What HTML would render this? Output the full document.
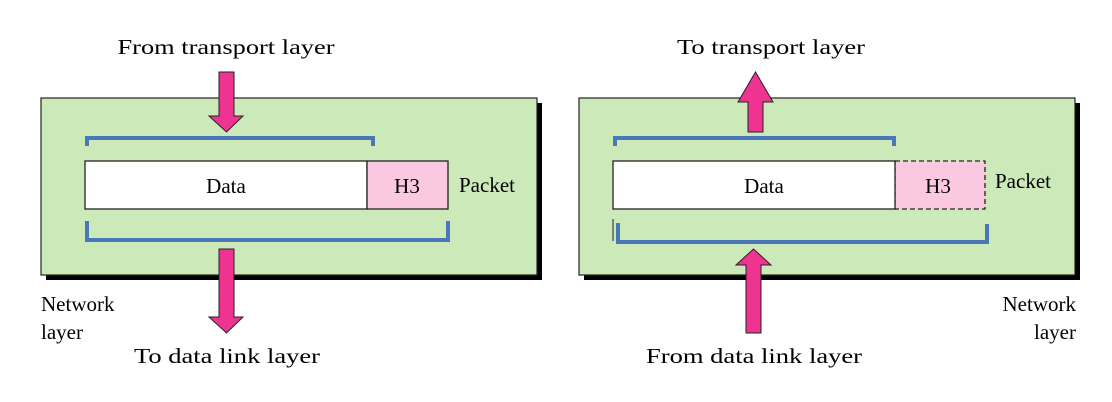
<!DOCTYPE html>
<html><head><meta charset="utf-8"><style>
html,body{margin:0;padding:0;background:#fff;}
svg{display:block;font-family:"Liberation Serif",serif;}
</style></head><body>
<svg width="1112" height="402" viewBox="0 0 1112 402" xmlns="http://www.w3.org/2000/svg">
<!-- LEFT -->
<rect x="46" y="103" width="496" height="177" fill="#000"/>
<rect x="41" y="98" width="496" height="177" fill="#cce9b9" stroke="#222" stroke-width="1.2"/>
<rect x="85" y="161" width="282" height="48" fill="#fff" stroke="#222" stroke-width="1.3"/>
<rect x="367" y="161" width="81" height="48" fill="#fbc8e2" stroke="#222" stroke-width="1.3"/>
<text x="226" y="193" font-size="21" text-anchor="middle">Data</text>
<text x="407" y="193" font-size="21" text-anchor="middle">H3</text>
<text x="459" y="192" font-size="21">Packet</text>
<path d="M87 146 V138 H373 V146" fill="none" stroke="#4a77b8" stroke-width="4"/>
<path d="M87 221 V240 H448 V221" fill="none" stroke="#4a77b8" stroke-width="4"/>
<polygon points="219,72 234,72 234,116 243,116 226.5,132 209,116 219,116" fill="#ee3391" stroke="#222" stroke-width="1"/>
<polygon points="219,249 234,249 234,317 243,317 226.5,333 209,317 219,317" fill="#ee3391" stroke="#222" stroke-width="1"/>
<text x="226" y="54" font-size="21" text-anchor="middle" textLength="217" lengthAdjust="spacingAndGlyphs">From transport layer</text>
<text x="227" y="363" font-size="21" text-anchor="middle" textLength="186" lengthAdjust="spacingAndGlyphs">To data link layer</text>
<text x="41" y="311" font-size="21">Network</text>
<text x="41" y="339" font-size="21">layer</text>
<!-- RIGHT -->
<rect x="584" y="103" width="496" height="177" fill="#000"/>
<rect x="579" y="98" width="496" height="177" fill="#cce9b9" stroke="#222" stroke-width="1.2"/>
<rect x="895" y="161" width="90" height="48" fill="#fbc8e2" stroke="#222" stroke-width="1.3" stroke-dasharray="5,3"/>
<rect x="613" y="161" width="282" height="48" fill="#fff" stroke="#222" stroke-width="1.3"/>
<text x="764" y="193" font-size="21" text-anchor="middle">Data</text>
<text x="938" y="193" font-size="21" text-anchor="middle">H3</text>
<text x="995" y="188" font-size="21">Packet</text>
<path d="M615 146 V138 H894 V146" fill="none" stroke="#4a77b8" stroke-width="4"/>
<line x1="613" y1="219" x2="613" y2="241" stroke="#222" stroke-width="1"/>
<path d="M618 223 V242 H987 V224" fill="none" stroke="#4a77b8" stroke-width="4"/>
<polygon points="748,132 763,132 763,102 773,102 755.5,72 738,102 748,102" fill="#ee3391" stroke="#222" stroke-width="1"/>
<polygon points="746,333 761,333 761,265 771,265 753.5,249 736,265 746,265" fill="#ee3391" stroke="#222" stroke-width="1"/>
<text x="771" y="54" font-size="21" text-anchor="middle" textLength="188" lengthAdjust="spacingAndGlyphs">To transport layer</text>
<text x="754" y="363" font-size="21" text-anchor="middle" textLength="216" lengthAdjust="spacingAndGlyphs">From data link layer</text>
<text x="1076" y="311" font-size="21" text-anchor="end">Network</text>
<text x="1076" y="339" font-size="21" text-anchor="end">layer</text>
</svg>
</body></html>
